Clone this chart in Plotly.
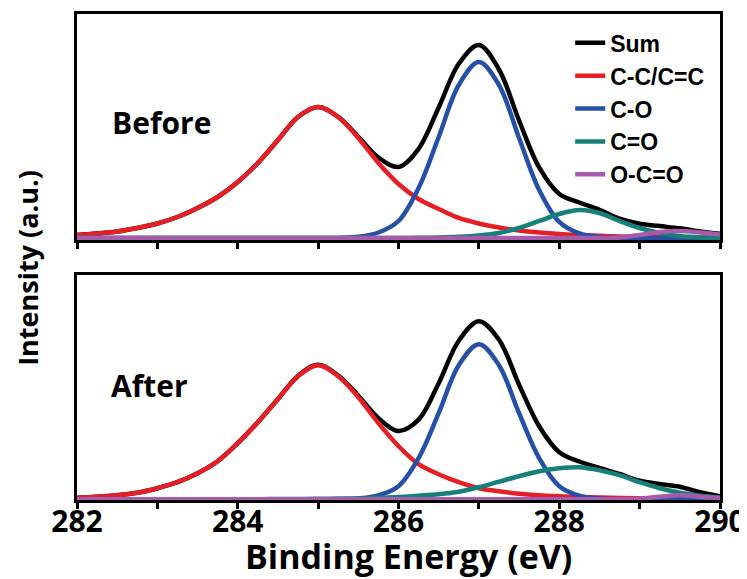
import plotly.graph_objects as go

# Binding energy grid (eV)
energy = [282.0, 282.25, 282.5, 282.75, 283.0, 283.25, 283.5, 283.75, 284.0, 284.25, 284.5,
          284.75, 285.0, 285.25, 285.5, 285.75, 286.0, 286.25, 286.5, 286.75, 287.0, 287.25,
          287.5, 287.75, 288.0, 288.25, 288.5, 288.75, 289.0, 289.25, 289.5, 289.75, 290.0]

# ---- Before ----
before_sum = [3, 4.5, 6.5, 10, 14.5, 21, 30, 41, 56, 75, 98, 121, 131, 121.1, 101.2, 80.5, 71,
              89.2, 130.5, 174.2, 193, 168.5, 117.5, 70.5, 44, 35.5, 28.2, 19.3, 14.2, 11.9, 9.7, 6.6, 4.1]
before_cc = [3, 4.5, 6.5, 10, 14.5, 21, 30, 41, 56, 75, 98, 121, 131, 121, 100, 75, 54,
             39, 29, 20, 14.5, 10.5, 7.5, 5.5, 4, 3, 2.2, 1.6, 1.2, 0.9, 0.7, 0.5, 0.4]
before_co = [0, 0, 0, 0, 0, 0, 0, 0, 0, 0, 0, 0, 0, 0.1, 1.2, 5.5, 17,
             50, 101, 153, 176, 153, 100, 48, 16, 4.5, 1, 0.2, 0, 0, 0, 0, 0]
before_c_o = [0, 0, 0, 0, 0, 0, 0, 0, 0, 0, 0, 0, 0, 0, 0, 0, 0,
              0.2, 0.5, 1.2, 2.5, 5, 10, 17, 24, 28, 25, 17, 10, 5, 2, 0.6, 0.2]
before_occ = [0, 0, 0, 0, 0, 0, 0, 0, 0, 0, 0, 0, 0, 0, 0, 0, 0,
              0, 0, 0, 0, 0, 0, 0, 0, 0, 0, 0.5, 3, 6, 7, 5.5, 3.5]

# ---- After ----
after_sum = [1.5, 2.5, 4, 6.5, 11, 17, 26, 38, 56, 77, 100.2, 123.3, 134.4, 123.6, 103.5, 81.1, 68.2,
             79.5, 116, 158.5, 178, 159.5, 114.5, 73, 47, 37.7, 31.3, 25.2, 18.4, 15.2, 12.5, 6.9, 3]
after_cc = [1.5, 2.5, 4, 6.5, 11, 17, 26, 38, 56, 77, 100, 123, 134, 123, 102, 76, 53,
            35, 25, 17, 11, 8, 5.5, 4, 3, 2.2, 1.6, 1.2, 0.9, 0.7, 0.5, 0.4, 0.3]
after_co = [0, 0, 0, 0, 0, 0, 0, 0, 0, 0, 0, 0, 0, 0, 0.7, 3.8, 13,
            41, 86, 134, 155, 134, 86, 41, 13, 3.5, 0.7, 0, 0, 1, 1.5, 0.5, 0]
after_c_o = [0, 0, 0, 0, 0, 0, 0, 0, 0, 0, 0.2, 0.3, 0.4, 0.6, 0.8, 1.3, 2.2,
             3.5, 5, 7.5, 12, 17.5, 23, 28, 31, 32, 29, 24, 17, 11, 6.5, 3.5, 1.7]
after_occ = [0, 0, 0, 0, 0, 0, 0, 0, 0, 0, 0, 0, 0, 0, 0, 0, 0,
             0, 0, 0, 0, 0, 0, 0, 0, 0, 0, 0, 0.5, 2.5, 4, 2.5, 1]

series_names = ["Sum", "C-C/C=C", "C-O", "C=O", "O-C=O"]
series_colors = ["#000000", "#e41f26", "#2650a6", "#16807a", "#a65caa"]
panel_labels = ["Before", "After"]
tick_values = [282, 283, 284, 285, 286, 287, 288, 289, 290]
tick_text = ["282", "", "284", "", "286", "", "288", "", "290"]

fig = go.Figure()

panels = [
    ("x", "y", [before_sum, before_cc, before_co, before_c_o, before_occ], True),
    ("x2", "y2", [after_sum, after_cc, after_co, after_c_o, after_occ], False),
]
for xa, ya, data, show in panels:
    for name, color, vals in zip(series_names, series_colors, data):
        fig.add_trace(go.Scatter(
            x=energy, y=vals, mode="lines", name=name,
            line=dict(color=color, width=4.5, shape="spline", smoothing=1.0),
            xaxis=xa, yaxis=ya, showlegend=show,
        ))

axis_common = dict(showline=True, linecolor="black", linewidth=2.5, mirror=True,
                   showgrid=False, zeroline=False)

fig.update_layout(
    width=739, height=571,
    margin=dict(l=69, r=27, t=6, b=79, autoexpand=False),
    paper_bgcolor="white", plot_bgcolor="white",
    xaxis=dict(domain=[0, 1], range=[282, 290], anchor="y", tickmode="array",
               tickvals=tick_values, ticktext=tick_text, showticklabels=False,
               ticks="outside", ticklen=6, tickwidth=2.5, tickcolor="black", **axis_common),
    yaxis=dict(domain=[0.535, 1], range=[-2, 224], anchor="x", showticklabels=False,
               ticks="", **axis_common),
    xaxis2=dict(domain=[0, 1], range=[282, 290], anchor="y2", tickmode="array",
                tickvals=tick_values, ticktext=tick_text,
                ticks="outside", ticklen=6, tickwidth=2.5, tickcolor="black",
                ticklabelstandoff=-13,
                tickfont=dict(family="Open Sans", size=30, color="black", weight="bold"),
                **axis_common),
    yaxis2=dict(domain=[0, 0.463], range=[-0.8, 224.2], anchor="x2", showticklabels=False,
                ticks="", **axis_common),
    legend=dict(x=0.767, y=0.985, xanchor="left", yanchor="top",
                bgcolor="rgba(0,0,0,0)",
                font=dict(family="Liberation Sans", size=23, color="black", weight="bold")),
    showlegend=True,
)

fig.add_annotation(text=panel_labels[0], xref="paper", yref="paper", x=0.132, y=0.776,
                   xanchor="center", yanchor="middle", showarrow=False,
                   font=dict(family="Open Sans", size=30, color="black", weight="bold"))
fig.add_annotation(text=panel_labels[1], xref="paper", yref="paper", x=0.1135, y=0.2346,
                   xanchor="center", yanchor="middle", showarrow=False,
                   font=dict(family="Open Sans", size=30, color="black", weight="bold"))
fig.add_annotation(text="Binding Energy (eV)", xref="paper", yref="paper", x=0.515, y=-0.115,
                   xanchor="center", yanchor="middle", showarrow=False,
                   font=dict(family="Open Sans", size=34, color="black", weight="bold"))
fig.add_annotation(text="Intensity (a.u.)", xref="paper", yref="paper", x=-0.076, y=0.478,
                   xanchor="center", yanchor="middle", showarrow=False, textangle=-90,
                   font=dict(family="Open Sans", size=27, color="black", weight="bold"))

fig.write_html("out.html")
